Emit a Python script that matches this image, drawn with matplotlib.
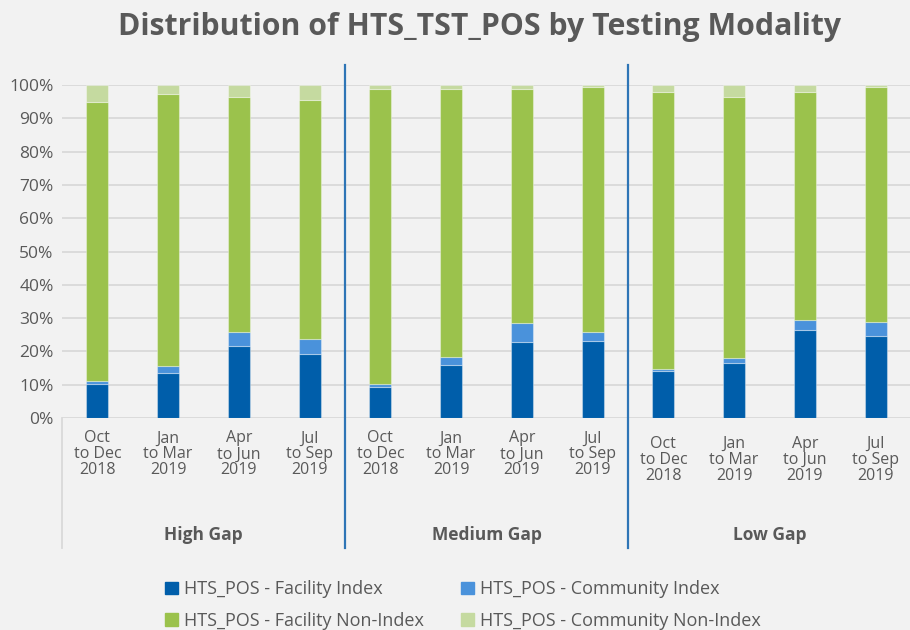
import numpy as np
import matplotlib
matplotlib.use("Agg")
import matplotlib.pyplot as plt
from matplotlib.patches import Patch

plt.rcParams['font.family'] = ['Open Sans', 'DejaVu Sans']

periods = ["Oct\nto Dec\n2018", "Jan\nto Mar\n2019", "Apr\nto Jun\n2019", "Jul\nto Sep\n2019"]
groups = ["High Gap", "Medium Gap", "Low Gap"]

# percent of HTS_TST_POS, 4 quarters per group
facility_index = [10.2, 13.5, 21.6, 19.1, 9.2, 16.0, 22.7, 23.0, 14.0, 16.4, 26.3, 24.5]
community_index = [0.8, 2.1, 4.2, 4.7, 1.1, 2.2, 5.7, 2.8, 0.6, 1.5, 3.1, 4.2]
facility_nonindex = [84.0, 81.6, 70.5, 71.8, 88.6, 80.7, 70.5, 73.5, 83.2, 78.4, 68.4, 70.6]
community_nonindex = [5.0, 2.8, 3.7, 4.4, 1.1, 1.1, 1.1, 0.7, 2.2, 3.7, 2.2, 0.7]

series = [
    ("HTS_POS - Facility Index", facility_index, "#005eaa"),
    ("HTS_POS - Community Index", community_index, "#4a92db"),
    ("HTS_POS - Facility Non-Index", facility_nonindex, "#9bc24c"),
    ("HTS_POS - Community Non-Index", community_nonindex, "#c5daa0"),
]

bg = "#f2f2f2"
txt = "#595959"
grid = "#d9d9d9"

fig = plt.figure(figsize=(9.1, 6.3), dpi=100, facecolor=bg)
ax = fig.add_axes([62 / 910, 212 / 630, 849 / 910, 333 / 630])
ax.set_facecolor(bg)

x = np.arange(len(facility_index))
bottom = np.zeros(len(x))
handles = []
for name, vals, col in series:
    ax.bar(x, vals, width=0.31, bottom=bottom, color=col,
           edgecolor=(1, 1, 1, 0.35), linewidth=0.8, zorder=3)
    bottom += np.array(vals)
    handles.append(Patch(color=col, label=name))

ax.set_xlim(-0.5, len(x) - 0.5)
ax.set_ylim(0, 100)
yt = np.arange(0, 101, 10)
ax.set_yticks(yt)
ax.set_yticklabels(["%d%%" % v for v in yt], fontsize=12.5, color=txt)
for v in yt:
    ax.axhline(v, color=grid, lw=1.3, zorder=1)
for s in ax.spines.values():
    s.set_visible(False)
ax.tick_params(axis='y', length=0, pad=6)

ax.set_xticks(x)
ax.set_xticklabels(periods * len(groups), fontsize=11.5, color=txt, linespacing=1.0)
ax.tick_params(axis='x', length=0, pad=9)
for t in ax.xaxis.get_major_ticks()[8:]:
    t.set_pad(13)

# category axis frame and group separators
ax.plot([-0.5, -0.5], [0, -39], color=grid, lw=1.3, clip_on=False)
for i in range(1, len(groups)):
    xs = i * len(periods) - 0.5
    ax.plot([xs, xs], [-39, 106], color="#2e75b6", lw=1.6, clip_on=False, zorder=4)

for i, g in enumerate(groups):
    xc = i * len(periods) + (len(periods) - 1) / 2
    ax.text(xc, -35, g, ha='center', va='center', fontsize=12.5,
            fontweight='bold', color=txt)

fig.text(480 / 910, 1 - 27 / 630, "Distribution of HTS_TST_POS by Testing Modality",
         ha='center', va='center', fontsize=21.8, fontweight='bold', color=txt)

order = [handles[0], handles[2], handles[1], handles[3]]
leg = fig.legend(handles=order, ncol=2, loc='upper left',
                 bbox_to_anchor=(158 / 910, 1 - 573 / 630), frameon=False,
                 fontsize=13, handlelength=0.7, handleheight=0.7,
                 handletextpad=0.35, columnspacing=2.05, labelspacing=0.75,
                 borderaxespad=0)
for t in leg.get_texts():
    t.set_color(txt)

fig.savefig("out.png", dpi=100, facecolor=bg)
